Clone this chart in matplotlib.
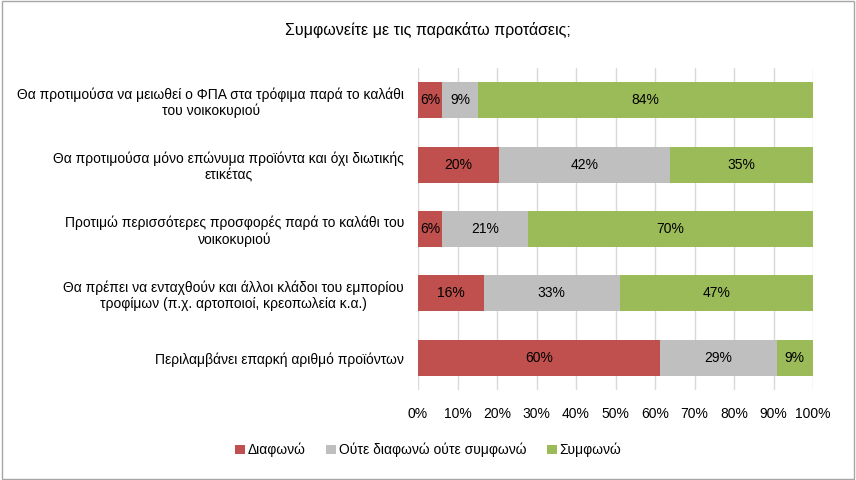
import numpy as np
import matplotlib.pyplot as plt

plt.rcParams['font.family'] = ['Liberation Sans', 'DejaVu Sans']

questions = [
    "Θα προτιμούσα να μειωθεί ο ΦΠΑ στα τρόφιμα παρά το καλάθι\nτου νοικοκυριού",
    "Θα προτιμούσα μόνο επώνυμα προϊόντα και όχι διωτικής\nετικέτας",
    "Προτιμώ περισσότερες προσφορές παρά το καλάθι του\nνοικοκυριού",
    "Θα πρέπει να ενταχθούν και άλλοι κλάδοι του εμπορίου\nτροφίμων (π.χ. αρτοποιοί, κρεοπωλεία κ.α.)",
    "Περιλαμβάνει επαρκή αριθμό προϊόντων",
]
disagree = [6, 20, 6, 16, 60]
neutral = [9, 42, 21, 33, 29]
agree = [84, 35, 70, 47, 9]
series_names = ["Διαφωνώ", "Ούτε διαφωνώ ούτε συμφωνώ", "Συμφωνώ"]
colors = ["#c0504d", "#bfbfbf", "#9bbb59"]

data = np.array([disagree, neutral, agree], dtype=float)
shares = data / data.sum(axis=0)

fig = plt.figure(figsize=(8.56, 4.8), dpi=100)
ax = fig.add_axes([418 / 856, 1 - 390 / 480, 395 / 856, 322 / 480])

y = np.arange(len(questions))
left = np.zeros(len(questions))
for i in range(3):
    bars = ax.barh(y, shares[i], left=left, height=0.56, color=colors[i],
                   label=series_names[i], zorder=3)
    for j, b in enumerate(bars):
        ax.text(left[j] + shares[i][j] / 2, y[j], f"{int(data[i][j])}%",
                ha='center', va='center', fontsize=10, zorder=4)
    left += shares[i]

ax.set_ylim(len(questions) - 0.5, -0.5)
ax.set_xlim(0, 1)
ax.set_xticks(np.linspace(0, 1, 11))
ax.set_xticklabels([f"{k}%" for k in range(0, 101, 10)], fontsize=10)
ax.set_yticks(y)
ax.set_yticklabels(questions, fontsize=10, ha='right', multialignment='center')
ax.tick_params(axis='y', length=0, pad=10)
ax.tick_params(axis='x', length=0, pad=12)
ax.grid(axis='x', color='#d9d9d9', linewidth=1, zorder=0)
for s in ax.spines.values():
    s.set_visible(False)

fig.text(0.5, 1 - 30 / 480, "Συμφωνείτε με τις παρακάτω προτάσεις;",
         ha='center', va='center', fontsize=11.5)

fig.legend(loc='center', bbox_to_anchor=(0.5, 1 - 450 / 480), ncol=3,
           frameon=False, fontsize=10, handlelength=0.7, handleheight=0.7,
           columnspacing=1.5, handletextpad=0.2)

fig.patches.append(plt.Rectangle((0.002, 0.002), 0.996, 0.996, transform=fig.transFigure,
                                 fill=False, edgecolor='#a6a6a6', linewidth=1))

fig.savefig("out.png", dpi=100)
